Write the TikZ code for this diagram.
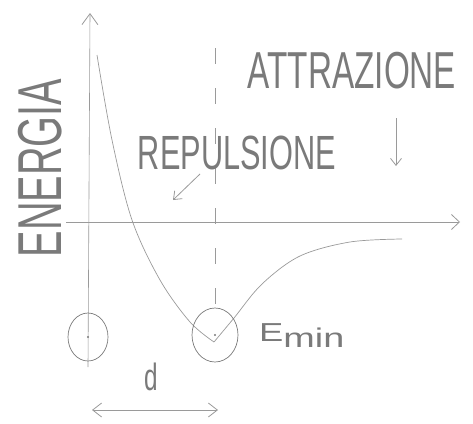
\documentclass[tikz,border=0pt]{standalone}
\usepackage{fontspec}
\newfontfamily\handfont[FakeStretch=0.64]{Liberation Sans}
\newfontfamily\handwide[FakeStretch=1.4]{Liberation Sans}
\usetikzlibrary{shapes.geometric,positioning,arrows.meta}

\definecolor{pencil}{HTML}{9A9A9A}
\definecolor{pencilink}{HTML}{7A7A7A}

\begin{document}
\begin{tikzpicture}[
  x=1pt,y=-1pt,
  axisline/.style={draw=pencil,line width=0.6pt},
  sketcharrow/.style={->,>={Straight Barb[length=7pt,width=11pt,line width=0.8pt]},draw=pencil,line width=0.8pt},
  distarrow/.style={<->,>={Straight Barb[length=9pt,width=14pt,line width=0.8pt]},draw=pencil,line width=0.8pt},
  handlabel/.style={font=\handfont,text=pencilink,inner sep=0pt},
  atom/.style={ellipse,draw=pencilink,line width=0.7pt,inner sep=0pt},
  curveline/.style={draw=pencil,line width=0.7pt},
]
\useasboundingbox (0,0) rectangle (473,423);

% axes
\coordinate (yfoot) at (88,367);
\coordinate (ytip) at (90,13);
\coordinate (xstart) at (66,222);
\coordinate (xtip) at (460,222);
\draw[axisline,-{Straight Barb[length=11pt,width=16pt,line width=0.8pt]}] (yfoot) -- (ytip);
\draw[axisline,-{Straight Barb[length=8pt,width=15pt,line width=0.8pt]}] (xstart) -- (xtip);

% equilibrium distance
\coordinate (eqtop) at (215,48);
\coordinate (eqbot) at (215,322);
\draw[axisline,dash pattern=on 16pt off 24pt] (eqtop) -- (eqbot);

% potential energy curve
\draw[curveline] plot[smooth,tension=0.55] coordinates
  {(97,55) (112,140) (132,220) (160,280) (190,322) (214,342)};
\draw[curveline] plot[smooth,tension=0.55] coordinates
  {(214,342) (234,318) (262,284) (300,256) (350,242) (402,239)};

% atoms
\node[atom,minimum width=40pt,minimum height=48pt] (atomA) at (88,337) {};
\node[atom,minimum width=46pt,minimum height=54pt] (atomB) at (215,335) {};
\fill[pencilink] (atomA.center) circle (1.2pt);
\fill[pencilink] (atomB.center) circle (1.2pt);

% labels
\node[handlabel,rotate=90,font=\handfont\fontsize{62}{62}\selectfont] (energia) at (40,168) {ENERGIA};
\node[handlabel,font=\handfont\fontsize{52}{52}\selectfont] (attrazione) at (352,71) {ATTRAZIONE};
\node[handlabel,font=\handfont\fontsize{48}{48}\selectfont] (repulsione) at (237,153) {REPULSIONE};
\node[handlabel,anchor=west,font=\handwide\fontsize{26}{26}\selectfont] (emin) at (259,336)
  {E\raisebox{-6pt}{\fontsize{27}{27}\selectfont min}};
\node[handlabel,font=\handfont\fontsize{38}{38}\selectfont] (dlabel) at (151,377) {d};

% force arrows
\coordinate (repfrom) at (200,174);
\coordinate (repto) at (173,200);
\draw[sketcharrow] (repfrom) -- (repto);
\coordinate (attfrom) at (396,118);
\coordinate (attto) at (396,166);
\draw[sketcharrow] (attfrom) -- (attto);

% distance d
\coordinate (dL) at (92,410);
\coordinate (dR) at (218,410);
\draw[distarrow] (dL) -- (dR);

\end{tikzpicture}
\end{document}
